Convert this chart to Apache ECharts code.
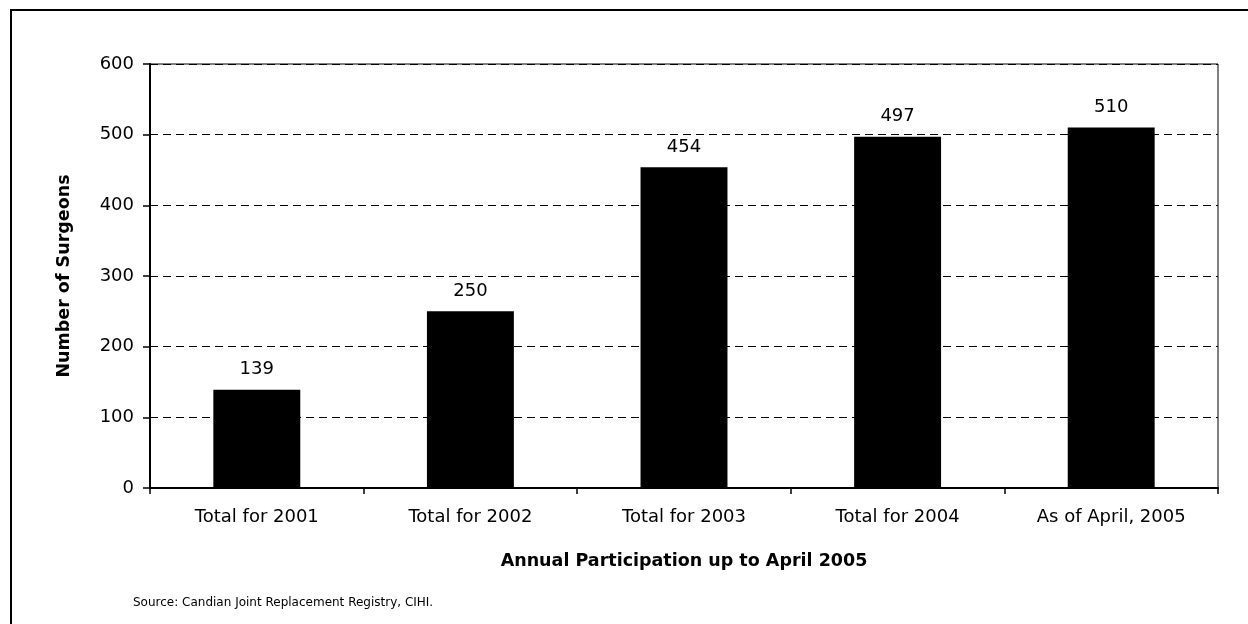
<!DOCTYPE html>
<html><head><meta charset="utf-8">
<script src="https://cdn.jsdelivr.net/npm/echarts@6/dist/echarts.min.js"></script>
<style>html,body{margin:0;padding:0;background:#fff}#c{width:1248px;height:624px}</style>
</head><body><div id="c"></div>
<script>
const categories = ["Total for 2001","Total for 2002","Total for 2003","Total for 2004","As of April, 2005"];
const surgeons = [139, 250, 454, 497, 510];
const yTitle = "Number of Surgeons";
const xTitle = "Annual Participation up to April 2005";
const sourceNote = "Source: Candian Joint Replacement Registry, CIHI.";

const chart = echarts.init(document.getElementById('c'));
const font = '"DejaVu Sans", Verdana, sans-serif';
chart.setOption({
  animation: false,
  backgroundColor: '#fff',
  textStyle: {fontFamily: font},
  grid: {left: 150, right: 30, top: 64, bottom: 136, show: true, borderColor: '#000', borderWidth: 1},
  graphic: [
    {type: 'rect', shape: {x: 11, y: 10, width: 1400, height: 800}, style: {fill: 'none', stroke: '#000', lineWidth: 2}, silent: true},
    {type: 'text', left: 133, top: 597, style: {text: sourceNote, font: '12px ' + font, fill: '#000'}}
  ],
  xAxis: {
    type: 'category', data: categories,
    name: xTitle, nameLocation: 'middle', nameGap: 64,
    nameTextStyle: {fontWeight: 'bold', fontSize: 17.5, color: '#000', fontFamily: font},
    axisLine: {lineStyle: {color: '#000', width: 2}},
    axisTick: {show: true, length: 6, lineStyle: {color: '#000', width: 1.5}},
    axisLabel: {color: '#000', fontSize: 18, margin: 20, fontFamily: font},
    splitLine: {show: false}
  },
  yAxis: {
    type: 'value', min: 0, max: 600, interval: 100,
    name: yTitle, nameLocation: 'middle', nameGap: 77,
    nameTextStyle: {fontWeight: 'bold', fontSize: 17.5, color: '#000', fontFamily: font},
    axisLine: {show: true, lineStyle: {color: '#000', width: 2}},
    axisTick: {show: true, length: 7, lineStyle: {color: '#000', width: 1.5}},
    axisLabel: {color: '#000', fontSize: 18, margin: 16, fontFamily: font},
    splitLine: {show: true, lineStyle: {color: '#000', width: 1, type: [8, 5]}}
  },
  series: [{
    type: 'bar', data: surgeons, barWidth: '40.7%',
    itemStyle: {color: '#000'},
    label: {show: true, position: 'top', distance: 11, color: '#000', fontSize: 18, fontFamily: font}
  }]
});
</script></body></html>
